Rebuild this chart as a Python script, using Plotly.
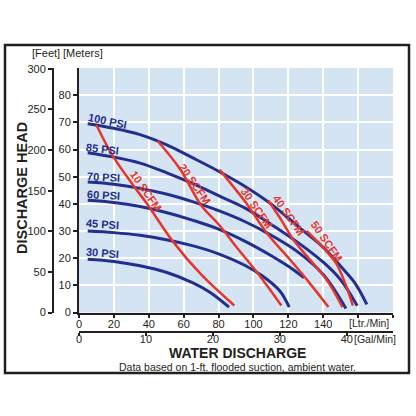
import plotly.graph_objects as go

# ---- data (x in Ltr/Min, y in Meters) ----
psi_names = ["100 PSI", "85 PSI", "70 PSI", "60 PSI", "45 PSI", "30 PSI"]
psi100_x = [5, 20, 35, 50, 65, 80, 95, 110, 125, 140, 150, 158, 165]
psi100_y = [69.5, 67.8, 65.5, 61.8, 57, 52, 46.5, 40, 32, 24, 17, 11, 3]
psi85_x = [5, 20, 35, 50, 65, 80, 95, 110, 125, 140, 150, 159.5]
psi85_y = [58.8, 57.2, 55, 51.5, 47.5, 43, 38.5, 32.5, 26, 18.5, 12, 2.5]
psi70_x = [5, 20, 35, 50, 65, 80, 95, 110, 125, 140, 153]
psi70_y = [48, 47.2, 45.7, 43.6, 40.8, 37.5, 33.5, 28.5, 22.5, 14, 1.5]
psi60_x = [5, 20, 35, 50, 65, 80, 95, 110, 120, 129]
psi60_y = [41.3, 40.5, 39, 36.8, 34, 30.7, 26.3, 21, 17, 12.8]
psi45_x = [5, 20, 35, 50, 65, 80, 95, 105, 115, 120.5]
psi45_y = [30, 29.4, 28.4, 26.8, 24.6, 21.6, 17.4, 13.5, 8, 2]
psi30_x = [5, 20, 35, 50, 65, 75, 86]
psi30_y = [19.6, 18.8, 17.2, 14.8, 11, 7.5, 2]

scfm_names = ["10 SCFM", "20 SCFM", "30 SCFM", "40 SCFM", "50 SCFM"]
scfm10_x = [10, 19, 32, 39, 54, 70, 89]
scfm10_y = [69, 58, 46, 40, 26, 14, 2.6]
scfm20_x = [45, 58, 70, 80, 90, 103, 116]
scfm20_y = [63.2, 52.7, 39.5, 32.5, 24.3, 14, 2.6]
scfm30_x = [80.5, 95, 108, 121, 132, 143]
scfm30_y = [52.6, 41, 29, 19.4, 11, 2]
scfm40_x = [108.5, 116, 123, 133, 142, 151]
scfm40_y = [41.2, 34, 26.7, 19, 12, 2]
scfm50_x = [130.5, 139, 147.5, 153, 157]
scfm50_y = [30, 24.5, 18, 10, 2.5]

ltr_ticks = [0, 20, 40, 60, 80, 100, 120, 140, 160, 180]
ltr_labels = ["0", "20", "40", "60", "80", "100", "120", "140", "", ""]
gal_ticks = [0, 10, 20, 30, 40]
meter_ticks = [0, 10, 20, 30, 40, 50, 60, 70, 80]
feet_ticks = [0, 50, 100, 150, 200, 250, 300]

# label anchor points (data units) and angles
psi_label_x = [16.6, 13.7, 14.3, 14.3, 13.7, 13.7]
psi_label_y = [70.6, 60.3, 49.9, 43.3, 32.6, 21.9]
psi_label_ang = [12, 7, 3, 3, 4, 5]
scfm_label_x = [38.5, 66.5, 102.0, 120.3, 142.0]
scfm_label_y = [44.8, 47.4, 38.6, 36.0, 26.4]

BLUE = "#232f8e"
RED = "#e7352c"
INK = "#231f20"
FONT = "Liberation Sans, Arial, sans-serif"

W = H = 416
ML, MR, MT, MB = 53, 23, 68, 84
PW = W - ML - MR
PH = H - MT - MB

fig = go.Figure()

psi_xs = [psi100_x, psi85_x, psi70_x, psi60_x, psi45_x, psi30_x]
psi_ys = [psi100_y, psi85_y, psi70_y, psi60_y, psi45_y, psi30_y]
for n, xs, ys in zip(psi_names, psi_xs, psi_ys):
    fig.add_trace(go.Scatter(x=xs, y=ys, mode="lines", name=n,
                             line=dict(color=BLUE, width=3, shape="spline"),
                             showlegend=False, hoverinfo="skip"))

scfm_xs = [scfm10_x, scfm20_x, scfm30_x, scfm40_x, scfm50_x]
scfm_ys = [scfm10_y, scfm20_y, scfm30_y, scfm40_y, scfm50_y]
for n, xs, ys in zip(scfm_names, scfm_xs, scfm_ys):
    fig.add_trace(go.Scatter(x=xs, y=ys, mode="lines", name=n,
                             line=dict(color=RED, width=2.5, shape="spline"),
                             showlegend=False, hoverinfo="skip"))

# dummy traces so the secondary axes are drawn
fig.add_trace(go.Scatter(x=[0], y=[0], xaxis="x2", yaxis="y", mode="markers",
                         marker=dict(opacity=0), showlegend=False, hoverinfo="skip"))
fig.add_trace(go.Scatter(x=[0], y=[0], xaxis="x", yaxis="y2", mode="markers",
                         marker=dict(opacity=0), showlegend=False, hoverinfo="skip"))

x_dom0 = (79 - ML) / PW
y_dom0 = (332 - 312.5) / PH
tickfont = dict(family=FONT, size=11, color=INK)
common = dict(zeroline=False, showline=True, linecolor=INK, linewidth=2, ticks="outside",
              tickwidth=1.5, tickcolor=INK, tickfont=tickfont, automargin=False)

fig.update_layout(
    template="none",
    width=W, height=H,
    margin=dict(l=ML, r=MR, t=MT, b=MB),
    paper_bgcolor="white",
    plot_bgcolor="#d5e4f2",
    xaxis=dict(domain=[x_dom0, 1], range=[0, 180], tickvals=ltr_ticks, ticktext=ltr_labels,
               showgrid=True, gridcolor="white", gridwidth=2, anchor="y", ticklen=3,
               ticklabelstandoff=-3, **common),
    yaxis=dict(domain=[y_dom0, 1], range=[0, 90], tickvals=meter_ticks,
               showgrid=True, gridcolor="white", gridwidth=2, anchor="x", ticklen=4, **common),
    xaxis2=dict(overlaying="x", anchor="free", position=0, side="bottom",
                range=[0, 46.9], tickvals=gal_ticks, showgrid=False, ticklen=3,
                ticklabelstandoff=-6, **common),
    yaxis2=dict(overlaying="y", anchor="free", position=0, side="left",
                range=[0, 301], tickvals=feet_ticks, showgrid=False, ticklen=4, **common),
)

def px_x(px):
    return (px - ML) / PW

def px_y(py):
    return (H - MB - py) / PH

ann = []
for t, x, y, a in zip(psi_names, psi_label_x, psi_label_y, psi_label_ang):
    ann.append(dict(x=x, y=y, xref="x", yref="y", text=f"<b>{t}</b>", showarrow=False,
                    xanchor="center", yanchor="middle",
                    textangle=a, font=dict(family=FONT, size=11, color=BLUE)))
for t, x, y in zip(scfm_names, scfm_label_x, scfm_label_y):
    ann.append(dict(x=x, y=y, xref="x", yref="y", text=f"<b>{t}</b>", showarrow=False,
                    xanchor="center", yanchor="middle",
                    textangle=55, font=dict(family=FONT, size=11, color=RED)))

small = dict(family=FONT, size=11, color=INK)
unit = dict(family=FONT, size=10.5, color=INK)

def pann(px, py, text, font, angle=0):
    return dict(x=px_x(px), y=px_y(py), xref="paper", yref="paper", text=text,
                showarrow=False, xanchor="center", yanchor="middle",
                textangle=angle, font=font)

ann += [
    pann(46, 53, "[Feet]", small),
    pann(83, 53, "[Meters]", small),
    pann(369, 322.5, "[Ltr./Min]", unit),
    pann(375, 338.5, "[Gal/Min]", unit),
    pann(22, 188, "<b>DISCHARGE HEAD</b>", dict(family=FONT, size=14.5, color=INK), -90),
    pann(237, 352.5, "<b>WATER DISCHARGE</b>", dict(family=FONT, size=14, color=INK)),
    pann(237, 367, "Data based on 1-ft. flooded suction, ambient water.",
         dict(family=FONT, size=10.5, color=INK)),
]
fig.update_layout(annotations=ann)

fig.add_shape(type="rect", xref="paper", yref="paper",
              x0=px_x(5), x1=px_x(409), y0=px_y(373), y1=px_y(45),
              line=dict(color=INK, width=2.5), layer="below")

fig.write_html("out.html", config={"displayModeBar": False},
               post_script="document.body.style.margin='0px';document.body.style.overflow='hidden';")
